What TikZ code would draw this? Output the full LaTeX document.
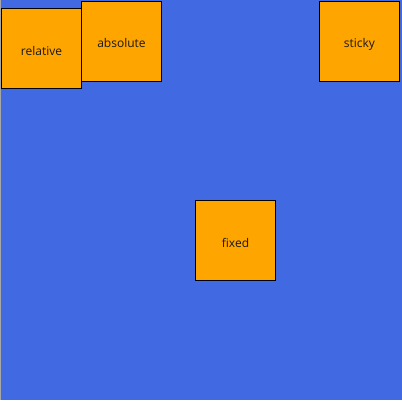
\documentclass[tikz,border=0pt]{standalone}
\usepackage{fontspec}
\setmainfont{Open Sans}
\definecolor{bgblue}{HTML}{4169E1}
\definecolor{boxorange}{HTML}{FFA500}
\begin{document}
\begin{tikzpicture}[x=1pt,y=-1pt,
  posbox/.style={draw=black,line width=1pt,fill=boxorange,minimum width=80pt,minimum height=80pt,inner sep=0pt,anchor=north west,font=\fontsize{12}{14}\selectfont,text=black!90,text height=13.5pt,text depth=0pt}]
\fill[bgblue] (0,0) rectangle (402,400);
\useasboundingbox (0,0) rectangle (402,400);
\draw[gray!70,line width=0.8pt] (0.4,0) -- (0.4,400);
\node[posbox] (relative) at (1,8) {relative};
\node[posbox] (absolute) at (81,0.5) {absolute};
\node[posbox] (sticky) at (319,0.5) {sticky};
\node[posbox] (fixed) at (195,200) {fixed};
\end{tikzpicture}
\end{document}
